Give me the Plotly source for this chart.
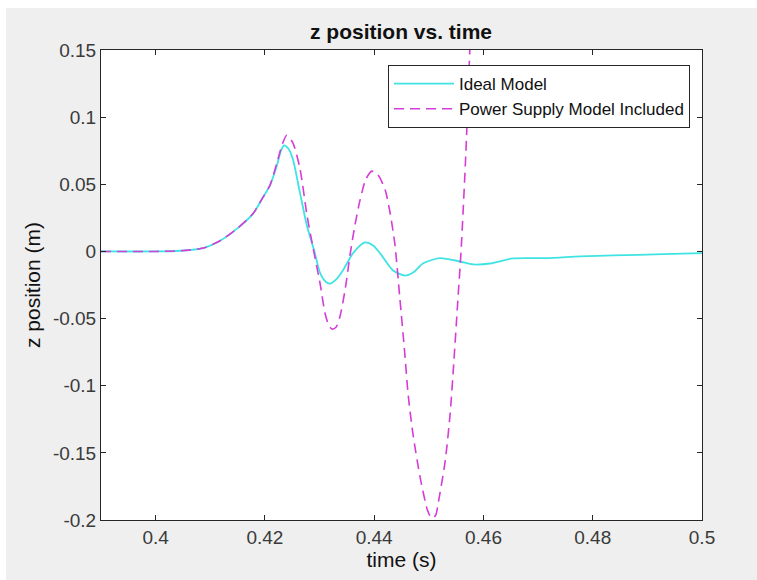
import plotly.graph_objects as go

# Ideal Model (cyan, solid)
ideal_t = [0.39, 0.40, 0.4045, 0.4087, 0.4118, 0.4149, 0.4178, 0.4196, 0.4209, 0.4222,
           0.4229, 0.4235, 0.4243, 0.4251, 0.4264, 0.4277, 0.4290, 0.4301, 0.4311, 0.4319,
           0.4330, 0.4343, 0.4361, 0.4383, 0.4398, 0.4411, 0.4434, 0.4456, 0.4472, 0.4489,
           0.4520, 0.4557, 0.4581, 0.4612, 0.4654, 0.4716, 0.4777, 0.4837, 0.4929, 0.5]
ideal_z = [0.0, 0.0, 0.0005, 0.0025, 0.008, 0.017, 0.028, 0.040, 0.049, 0.064,
           0.0745, 0.0790, 0.0765, 0.069, 0.044, 0.019, 0.001, -0.016, -0.0225, -0.024,
           -0.021, -0.014, -0.0015, 0.0067, 0.0045, -0.0015, -0.014, -0.018, -0.0155, -0.009,
           -0.005, -0.0075, -0.0097, -0.009, -0.0052, -0.005, -0.0037, -0.003, -0.002, -0.0012]

# Power Supply Model Included (magenta, dashed)
psu_t = [0.39, 0.40, 0.4045, 0.4087, 0.4118, 0.4149, 0.4178, 0.4196, 0.4209, 0.4222,
         0.4232, 0.4240, 0.4251, 0.4264, 0.4277, 0.4288, 0.4301, 0.4310, 0.4317, 0.4323,
         0.4330, 0.4337, 0.4347, 0.4356, 0.4365, 0.4374, 0.4385, 0.4396, 0.4407, 0.4420,
         0.4429, 0.4438, 0.4447, 0.4456, 0.4462, 0.4471, 0.4484, 0.4497, 0.4503, 0.4508,
         0.4513, 0.4517, 0.4530, 0.4539, 0.4546, 0.4553, 0.4559, 0.4568, 0.4575, 0.4581]
psu_z = [0.0, 0.0, 0.0005, 0.0025, 0.008, 0.017, 0.028, 0.040, 0.049, 0.066,
         0.080, 0.0865, 0.081, 0.062, 0.027, 0.003, -0.024, -0.046, -0.055, -0.0578,
         -0.0565, -0.049, -0.028, -0.002, 0.020, 0.038, 0.054, 0.0598, 0.057, 0.046,
         0.029, 0.005, -0.035, -0.076, -0.106, -0.136, -0.168, -0.192, -0.1975, -0.1985,
         -0.196, -0.188, -0.156, -0.121, -0.081, -0.037, 0.0, 0.075, 0.15, 0.21]

x_ticks = [0.4, 0.42, 0.44, 0.46, 0.48, 0.5]
x_tick_labels = ["0.4", "0.42", "0.44", "0.46", "0.48", "0.5"]
y_ticks = [-0.2, -0.15, -0.1, -0.05, 0, 0.05, 0.1, 0.15]
y_tick_labels = ["-0.2", "-0.15", "-0.1", "-0.05", "0", "0.05", "0.1", "0.15"]

FONT = "Liberation Sans"

fig = go.Figure()
fig.add_trace(go.Scatter(x=ideal_t, y=ideal_z, mode="lines", name="Ideal Model",
                         line=dict(color="#3fe3e3", width=1.8, shape="spline", smoothing=0.7)))
fig.add_trace(go.Scatter(x=psu_t, y=psu_z, mode="lines", name="Power Supply Model Included",
                         line=dict(color="#d63cd6", width=1.6, dash="10px,6px", shape="spline", smoothing=0.7)))

fig.update_layout(
    width=757, height=580,
    margin=dict(l=101, r=55, t=50, b=60),
    paper_bgcolor="#efefef",
    plot_bgcolor="white",
    font=dict(family=FONT, color="#3a3a3a", size=19),
    title=dict(text="<b>z position vs. time</b>", x=401 / 757, xanchor="center",
               y=1 - 32 / 580, yanchor="middle", font=dict(size=21, color="#111111")),
    showlegend=True,
    legend=dict(x=0.980, y=0.968, xanchor="right", yanchor="top",
                bgcolor="white", bordercolor="#262626", borderwidth=1,
                font=dict(size=17, color="#111111"), tracegroupgap=0,
                itemwidth=60),
    xaxis=dict(range=[0.39, 0.5], tickvals=x_ticks, ticktext=x_tick_labels,
               showgrid=False, zeroline=False, showline=True, linecolor="#262626", linewidth=1,
               mirror="ticks", ticks="inside", ticklen=5, tickcolor="#262626",
               title=dict(text="time (s)", font=dict(size=21, color="#111111"), standoff=4)),
    yaxis=dict(range=[-0.2, 0.15], tickvals=y_ticks, ticktext=y_tick_labels,
               showgrid=False, zeroline=False, showline=True, linecolor="#262626", linewidth=1,
               mirror="ticks", ticks="inside", ticklen=5, tickcolor="#262626",
               title=dict(text="z position (m)", font=dict(size=21, color="#111111"), standoff=6)),
    shapes=[
        dict(type="rect", xref="paper", yref="paper", x0=-101 / 601, x1=656 / 601,
             y0=1 + 42 / 470, y1=1 + 51 / 470, fillcolor="white", line=dict(width=0), layer="below"),
        dict(type="rect", xref="paper", yref="paper", x0=-102 / 601, x1=-95 / 601,
             y0=-61 / 470, y1=1 + 51 / 470, fillcolor="white", line=dict(width=0), layer="below"),
    ],
)

fig.write_html("out.html", config={"displayModeBar": False},
               post_script="document.body.style.margin='0';document.body.style.overflow='hidden';")
